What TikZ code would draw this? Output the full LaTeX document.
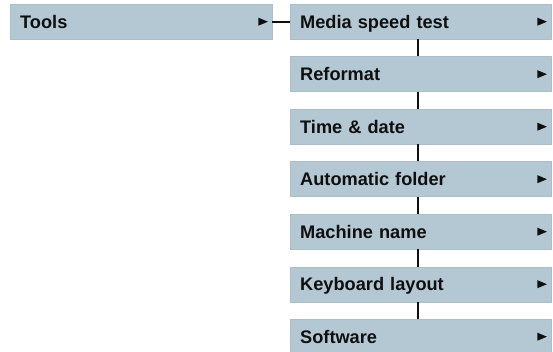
\documentclass[tikz,border=0pt]{standalone}
\usepackage{fontspec}
\setmainfont{Liberation Sans}
\definecolor{boxblue}{RGB}{180,200,212}
\definecolor{boxedge}{RGB}{170,190,203}
\definecolor{inkc}{RGB}{15,15,15}
\tikzset{
  menubox/.style={fill=boxblue, draw=boxedge, line width=0.4pt, minimum height=35pt,
    anchor=north west, inner xsep=10pt, inner ysep=0pt, align=left, text width=#1,
    text height=13pt, text depth=0pt,
    text=inkc, font=\bfseries\fontsize{18.2}{20}\selectfont},
  conn/.style={draw=inkc, line width=1.8pt},
}
\newcommand{\subarrow}[1]{\fill[inkc] ([xshift=-4.5pt]#1.east) -- ++(-9.5pt,4pt) -- ++(0,-8pt) -- cycle;}
\begin{document}
\begin{tikzpicture}[x=1pt,y=1pt]
\useasboundingbox (0,0) rectangle (553,-352);
\node[menubox=242pt] (tools) at (10,-4) {Tools};
\node[menubox=241pt] (m1) at (290,-4) {Media speed test};
\node[menubox=241pt] (m2) at (290,-56.5) {Reformat};
\node[menubox=241pt] (m3) at (290,-109) {Time \& date};
\node[menubox=241pt] (m4) at (290,-161.5) {Automatic folder};
\node[menubox=241pt] (m5) at (290,-214) {Machine name};
\node[menubox=241pt] (m6) at (290,-266.5) {Keyboard layout};
\node[menubox=241pt] (m7) at (290,-319) {Software};
\subarrow{tools}
\foreach \n in {m1,m2,m3,m4,m5,m6,m7} {\subarrow{\n}}
\draw[conn] (tools.east) -- (m1.west);
\foreach \a/\b in {m1/m2,m2/m3,m3/m4,m4/m5,m5/m6,m6/m7}
  {\draw[conn, line width=1.5pt] ([xshift=-2.5pt]\a.south) -- ([xshift=-2.5pt]\b.north);}
\end{tikzpicture}
\end{document}
